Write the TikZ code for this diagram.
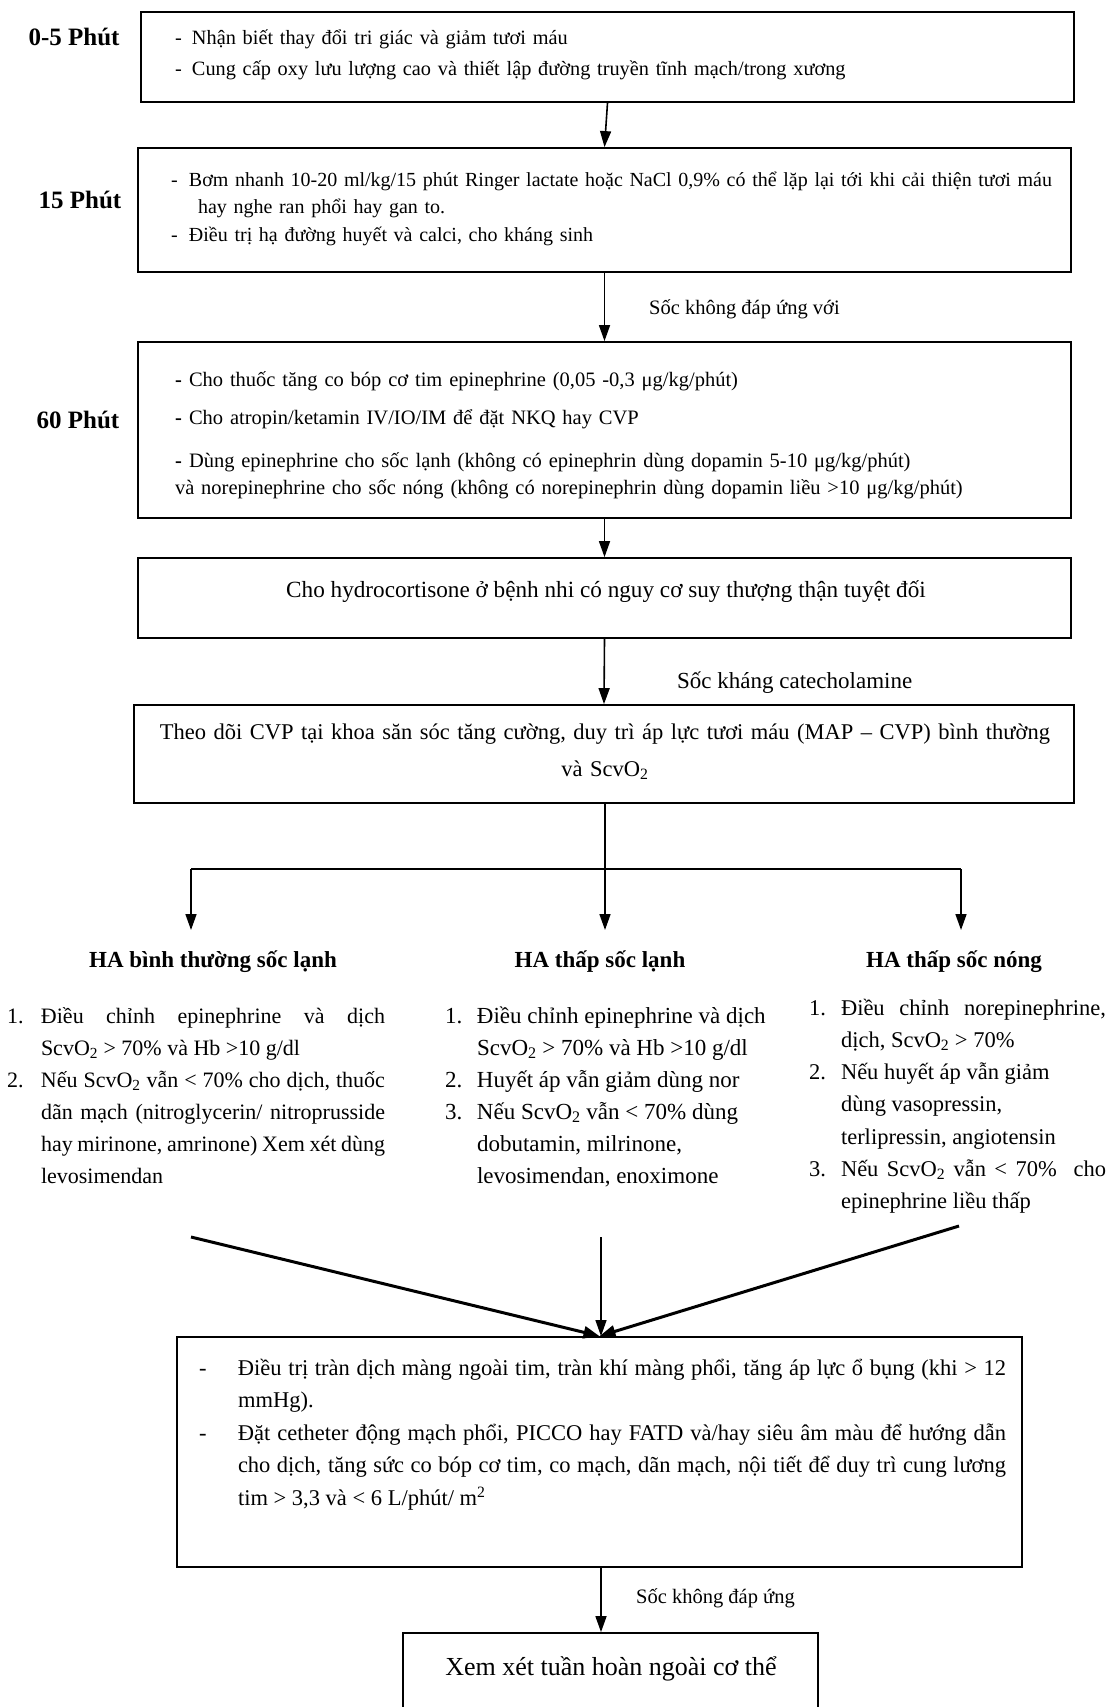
\documentclass[tikz,border=0pt]{standalone}
\usepackage{fontspec}
\setmainfont{Liberation Serif}
\usetikzlibrary{arrows.meta}
\newlength{\lw}
\newcommand{\litemA}[2][34pt]{\setlength{\lw}{#1}\hangindent=\lw\hangafter=1\makebox[\lw][l]{#2}\ignorespaces}
\newcommand{\litem}{\par\noindent\litemA}
\newcommand{\setfs}[2]{\fontsize{#1}{#2}\selectfont}
\newcommand{\sbt}[1]{\textsubscript{#1}}
\newcommand{\dsh}[1]{\makebox[#1][l]{-}}
\newcommand{\zp}{\setlength{\parindent}{0pt}\setlength{\parskip}{0pt}}
\begin{document}
\begin{tikzpicture}[x=1pt,y=-1pt,
  box/.style={draw, line width=1.8pt, inner sep=0pt},
  ln/.style={line width=1.6pt},
  arr/.style={line width=1.6pt, -{Triangle[length=16pt,width=11pt]}},
  arrthick/.style={line width=3pt, -{Triangle[length=16pt,width=12pt]}},
  arrthin/.style={line width=1.2pt, -{Triangle[length=16pt,width=11pt]}},
  tx/.style={inner sep=0pt, outer sep=0pt, anchor=base west, text width=950pt, align=left, font=\setfs{20.3}{31}},
  lst/.style={inner sep=0pt, outer sep=0pt, anchor=base west, align=justify, font=\setfs{22}{32}},
  ttl/.style={inner sep=0pt, anchor=base, font=\bfseries\setfs{25}{30}},
  hd/.style={inner sep=0pt, anchor=base, font=\bfseries\setfs{23}{28}},
  lbl/.style={inner sep=0pt, anchor=base west, font=\setfs{20.5}{25}}
]
\useasboundingbox (0,0) rectangle (1108,1707);
\fill[white] (0,0) rectangle (1108,1707);
\begin{scope}
\clip (0,0) rectangle (1108,1707);

% boxes
\node[box, minimum width=933pt, minimum height=90pt]  (b1) at (607.5,57) {};
\node[box, minimum width=933pt, minimum height=124pt] (b2) at (604.5,210) {};
\node[box, minimum width=933pt, minimum height=176pt] (b3) at (604.5,430) {};
\node[box, minimum width=933pt, minimum height=80pt]  (b4) at (604.5,598) {};
\node[box, minimum width=940pt, minimum height=98pt]  (b5) at (604,754) {};
\node[box, minimum width=845pt, minimum height=230pt] (b6) at (599.5,1452) {};
\node[box, minimum width=415pt, minimum height=107pt] (b7) at (610.5,1686.5) {};

% time labels
\node[ttl] (t1) at (74,46) {0-5 Phút};
\node[ttl] (t2) at (80,208) {15 Phút};
\node[ttl] (t3) at (78,428) {60 Phút};

% box texts
\node[tx] (x1) at (175,45) {\dsh{17pt}Nhận biết thay đổi tri giác và giảm tươi máu\\
\dsh{17pt}Cung cấp oxy lưu lượng cao và thiết lập đường truyền tĩnh mạch/trong xương};

\node[tx, font=\setfs{20}{27.5}] (x2) at (171,186) {\dsh{18pt}Bơm nhanh 10-20 ml/kg/15 phút Ringer lactate hoặc NaCl 0,9\% có thể lặp lại tới khi cải thiện tươi máu\\
\hspace*{27pt}hay nghe ran phổi hay gan to.\\
\dsh{18pt}Điều trị hạ đường huyết và calci, cho kháng sinh};

\node[tx, font=\setfs{20.5}{26.5}] (x3) at (175,386) {\makebox[14pt][l]{\textbf{-}}Cho thuốc tăng co bóp cơ tim epinephrine (0,05 -0,3 μg/kg/phút)\\[11.5pt]
\makebox[14pt][l]{\textbf{-}}Cho atropin/ketamin IV/IO/IM để đặt NKQ hay CVP\\[17pt]
\makebox[14pt][l]{\textbf{-}}Dùng epinephrine cho sốc lạnh (không có epinephrin dùng dopamin 5-10 μg/kg/phút)\\
và norepinephrine cho sốc nóng (không có norepinephrin dùng dopamin liều >10 μg/kg/phút)};

\node[inner sep=0pt, anchor=base, font=\setfs{23.2}{28}] (x4) at (606,597) {Cho hydrocortisone ở bệnh nhi có nguy cơ suy thượng thận tuyệt đối};

\node[inner sep=0pt, anchor=base, text width=940pt, align=center, font=\setfs{22.5}{37}] (x5) at (605,739) {Theo dõi CVP tại khoa săn sóc tăng cường, duy trì áp lực tươi máu (MAP – CVP) bình thường\\
và ScvO\sbt{2}};

% main connectors
\draw[arr] (b1.south) -- (b2.north);
\draw[arr] (b2.south) -- (b3.north);
\draw[arr] (b3.south) -- (b4.north);
\draw[arr] (b4.south) -- (b5.north);
\node[lbl] (l1) at (649,314) {Sốc không đáp ứng với};
\node[lbl, font=\setfs{23}{28}] (l2) at (677,688) {Sốc kháng catecholamine};

% branching
\coordinate (j)  at (605,869);
\coordinate (jl) at (191,869);
\coordinate (jr) at (961,869);
\coordinate (tl) at (191,930);
\coordinate (tm) at (605,930);
\coordinate (tr) at (961,930);
\draw[ln] (b5.south -| j) -- (j);
\draw[ln] (jl) -- (jr);
\draw[arr] (jl) -- (tl);
\draw[arr] (j) -- (tm);
\draw[arr] (jr) -- (tr);

% headings
\node[hd] (h1) at (213,967) {HA bình thường sốc lạnh};
\node[hd] (h2) at (600,967) {HA thấp sốc lạnh};
\node[hd] (h3) at (954,967) {HA thấp sốc nóng};

% lists
\node[lst, text width=378pt] (c1) at (7,1023) {\zp\litemA{1.}Điều chỉnh epinephrine và dịch\linebreak ScvO\sbt{2} > 70\% và Hb >10 g/dl
\litem{2.}Nếu ScvO\sbt{2} vẫn < 70\% cho dịch, thuốc\linebreak dãn mạch (nitroglycerin/ nitroprusside\linebreak hay mirinone, amrinone) Xem xét dùng\linebreak levosimendan\par};

\node[lst, text width=327pt, font=\setfs{23}{32}] (c2) at (445,1023) {\zp\litemA[32pt]{1.}Điều chỉnh epinephrine và dịch\\ScvO\sbt{2} > 70\% và Hb >10 g/dl
\litem[32pt]{2.}Huyết áp vẫn giảm dùng nor
\litem[32pt]{3.}Nếu ScvO\sbt{2} vẫn < 70\% dùng\\dobutamin, milrinone,\\levosimendan, enoximone\par};

\node[lst, text width=297pt, font=\setfs{22.5}{32.3}] (c3) at (809,1015) {\zp\litemA[32pt]{1.}Điều chỉnh norepinephrine,\linebreak dịch, ScvO\sbt{2} > 70\%
\litem[32pt]{2.}Nếu huyết áp vẫn giảm\\dùng vasopressin,\\terlipressin, angiotensin
\litem[32pt]{3.}Nếu ScvO\sbt{2} vẫn < 70\%\ \ cho\linebreak epinephrine liều thấp\par};

% converging
\coordinate (cl) at (191,1237);
\coordinate (cm) at (601,1237);
\coordinate (cr) at (959,1226);
\draw[arrthick] (cl) -- (b6.north);
\draw[arrthin] (cm) -- (b6.north -| cm);
\draw[arrthick] (cr) -- (b6.north);

% box 6 text
\node[lst, text width=807pt, font=\setfs{22.5}{32.5}] (x6) at (199,1375) {\zp\litemA[39pt]{-}Điều trị tràn dịch màng ngoài tim, tràn khí màng phổi, tăng áp lực ổ bụng (khi > 12\linebreak mmHg).
\litem[39pt]{-}Đặt cetheter động mạch phổi, PICCO hay FATD và/hay siêu âm màu để hướng dẫn\linebreak cho dịch, tăng sức co bóp cơ tim, co mạch, dãn mạch, nội tiết để duy trì cung lương\linebreak tim > 3,3 và < 6 L/phút/ m\textsuperscript{2}\par};

\draw[arr] (b6.south -| cm) -- (b7.north -| cm);
\node[lbl] (l3) at (636,1603) {Sốc không đáp ứng};

\node[inner sep=0pt, anchor=base, font=\setfs{26}{30}] (x7) at (611,1675) {Xem xét tuần hoàn ngoài cơ thể};
\end{scope}
\end{tikzpicture}
\end{document}
